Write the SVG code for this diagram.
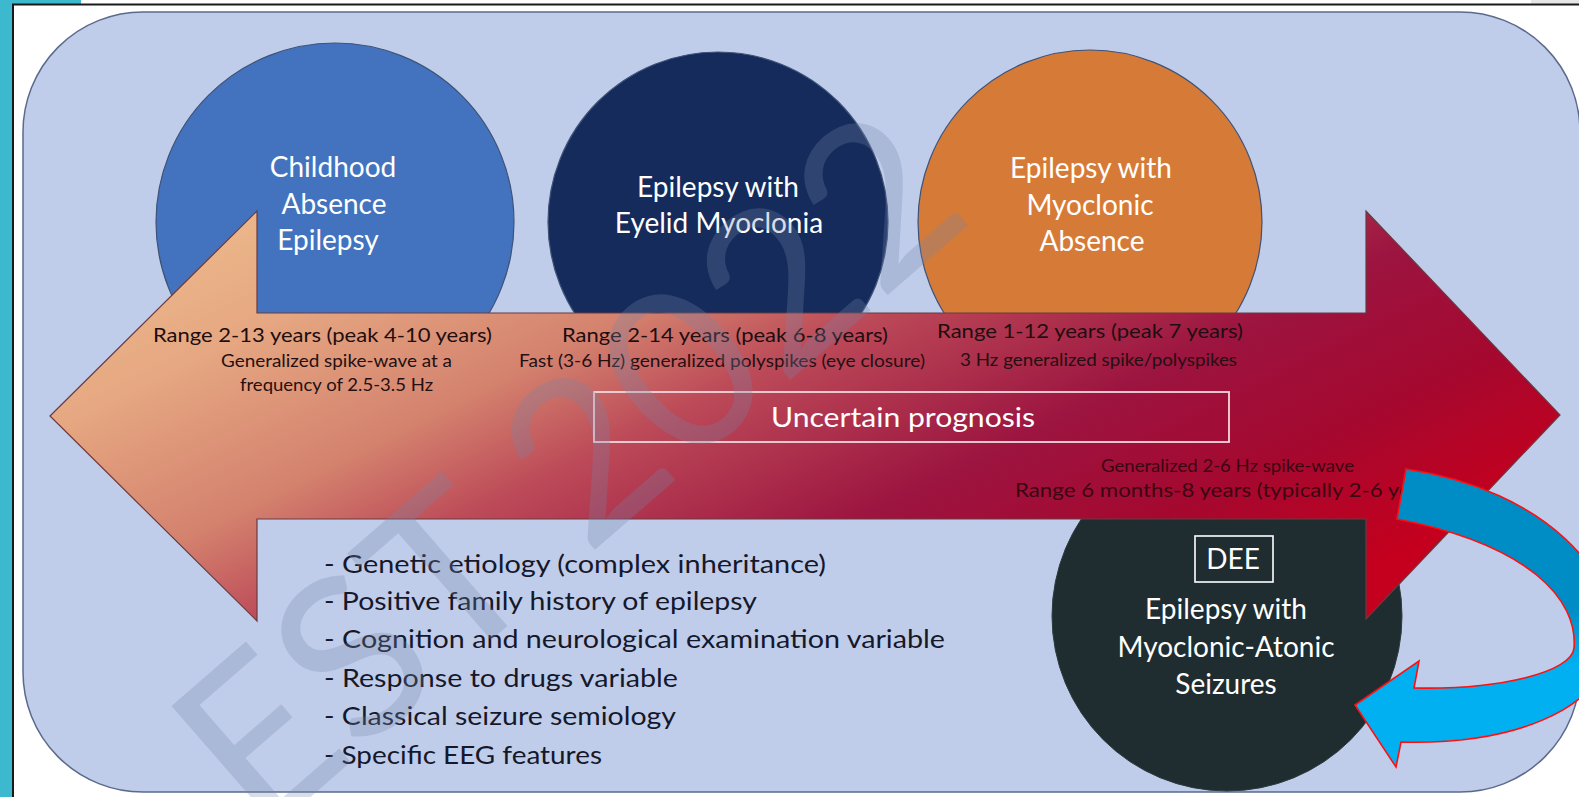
<svg xmlns="http://www.w3.org/2000/svg" width="1579" height="797" viewBox="0 0 1579 797">
  <defs>
    <linearGradient id="bandGrad" gradientUnits="userSpaceOnUse" x1="100" y1="200" x2="500" y2="1000">
      <stop offset="0" stop-color="#F0C090"/>
      <stop offset="0.2" stop-color="#E6A882"/>
      <stop offset="0.38" stop-color="#D4826E"/>
      <stop offset="0.5" stop-color="#BC4A58"/>
      <stop offset="0.7" stop-color="#9C1440"/>
      <stop offset="0.85" stop-color="#A5082F"/>
      <stop offset="1" stop-color="#C4001E"/>
    </linearGradient>
    <linearGradient id="loopGrad" gradientUnits="userSpaceOnUse" x1="0" y1="610" x2="0" y2="665">
      <stop offset="0" stop-color="#008DC5"/>
      <stop offset="1" stop-color="#00B0F0"/>
    </linearGradient>
    <clipPath id="bandTextClip">
      <rect x="900" y="440" width="504" height="80"/>
    </clipPath>
  </defs>
  <style>
    .t { font-family: Lato, "Open Sans", "Liberation Sans", sans-serif; }
    .circ-label { font-size: 28px; fill: #FFFFFF; text-anchor: middle; }
    .range { font-size: 20px; fill: #1E0E10; }
    .note { font-size: 17px; fill: #241012; }
    .note-dark { fill: #3A0612; }
    .bullet { font-size: 25px; fill: #16182A; }
    .node-circle { stroke: #3E5277; stroke-width: 1.2; }
  </style>

  <!-- page frame -->
  <rect x="0" y="0" width="1579" height="797" fill="#FFFFFF"/>
  <rect x="0" y="0" width="12" height="797" fill="#3CB8CF"/>
  <rect x="0" y="0" width="81" height="4" fill="#3CB8CF"/>
  <rect x="1531" y="0" width="48" height="4" fill="#E6E6E6"/>
  <line x1="12" y1="4.5" x2="1579" y2="4.5" stroke="#1A1A1A" stroke-width="2"/>
  <line x1="13" y1="4" x2="13" y2="797" stroke="#1A1A1A" stroke-width="2"/>

  <!-- rounded panel -->
  <rect id="panel" x="23" y="12" width="1557" height="780" rx="120" ry="120" fill="#BFCDEA" stroke="#5B6A8C" stroke-width="1.5"/>

  <!-- syndrome circles -->
  <g id="node-cae">
    <circle class="node-circle" cx="335" cy="222" r="179" fill="#4373BF"/>
  </g>
  <g id="node-eem">
    <circle class="node-circle" cx="718" cy="222" r="170" fill="#142B5C"/>
  </g>
  <g id="node-ema">
    <circle class="node-circle" cx="1090" cy="222" r="172" fill="#D67B37"/>
  </g>
  <g id="node-emas">
    <circle cx="1227" cy="616" r="175" fill="#1F2D30" stroke="#2A3A3E" stroke-width="1"/>
  </g>

  <!-- double-headed age/prognosis arrow -->
  <g id="connectors">
    <polygon id="spectrum-arrow" points="50,416 257,211 257,313 1366,313 1366,211 1560,415 1366,619 1366,519 257,519 257,621" fill="url(#bandGrad)" stroke="#6A3A40" stroke-width="1.2"/>
  </g>

  <!-- circle labels -->
  <g id="label-cae" class="t circ-label">
    <text x="333" y="177">Childhood</text>
    <text x="334" y="214">Absence</text>
    <text x="328" y="250">Epilepsy</text>
  </g>
  <g id="label-eem" class="t circ-label">
    <text x="718" y="197">Epilepsy with</text>
    <text x="719" y="233">Eyelid Myoclonia</text>
  </g>
  <g id="label-ema" class="t circ-label">
    <text x="1091" y="178">Epilepsy with</text>
    <text x="1090" y="215">Myoclonic</text>
    <text x="1092" y="251">Absence</text>
  </g>
  <g id="label-emas" class="t circ-label">
    <rect x="1195" y="536" width="78" height="46" fill="none" stroke="#FFFFFF" stroke-width="1.6"/>
    <text x="1233" y="569">DEE</text>
    <text x="1226" y="619">Epilepsy with</text>
    <text x="1226" y="657">Myoclonic-Atonic</text>
    <text x="1226" y="694">Seizures</text>
  </g>

  <!-- age ranges and EEG notes on the arrow -->
  <g id="notes-cae" class="t">
    <text class="range" x="153" y="342" textLength="339" lengthAdjust="spacingAndGlyphs">Range 2-13 years (peak 4-10 years)</text>
    <text class="note" x="221" y="367" textLength="231" lengthAdjust="spacingAndGlyphs">Generalized spike-wave at a</text>
    <text class="note" x="240" y="391" textLength="193" lengthAdjust="spacingAndGlyphs">frequency of 2.5-3.5 Hz</text>
  </g>
  <g id="notes-eem" class="t">
    <text class="range" x="562" y="342" textLength="326" lengthAdjust="spacingAndGlyphs">Range 2-14 years (peak 6-8 years)</text>
    <text class="note" x="519" y="367" textLength="406" lengthAdjust="spacingAndGlyphs">Fast (3-6 Hz) generalized polyspikes (eye closure)</text>
  </g>
  <g id="notes-ema" class="t">
    <text class="range" x="937" y="338" textLength="306" lengthAdjust="spacingAndGlyphs">Range 1-12 years (peak 7 years)</text>
    <text class="note" x="960" y="366" textLength="277" lengthAdjust="spacingAndGlyphs">3 Hz generalized spike/polyspikes</text>
  </g>
  <g id="prognosis">
    <rect x="594" y="392" width="635" height="50" fill="none" stroke="#F2D8DC" stroke-width="1.8"/>
    <text class="t" x="903" y="427" font-size="26" fill="#FFFFFF" text-anchor="middle" textLength="264" lengthAdjust="spacingAndGlyphs">Uncertain prognosis</text>
  </g>
  <g id="notes-emas" class="t" clip-path="url(#bandTextClip)">
    <text class="note note-dark" x="1101" y="472" textLength="253" lengthAdjust="spacingAndGlyphs">Generalized 2-6 Hz spike-wave</text>
    <text class="range note-dark" x="1015" y="497" textLength="430" lengthAdjust="spacingAndGlyphs">Range 6 months-8 years (typically 2-6 years)</text>
  </g>

  <!-- shared features list -->
  <g id="features" class="t bullet">
    <text x="324" y="573" textLength="502" lengthAdjust="spacingAndGlyphs">- Genetic etiology (complex inheritance)</text>
    <text x="324" y="610" textLength="433" lengthAdjust="spacingAndGlyphs">- Positive family history of epilepsy</text>
    <text x="324" y="648" textLength="621" lengthAdjust="spacingAndGlyphs">- Cognition and neurological examination variable</text>
    <text x="324" y="687" textLength="354" lengthAdjust="spacingAndGlyphs">- Response to drugs variable</text>
    <text x="324" y="725" textLength="352" lengthAdjust="spacingAndGlyphs">- Classical seizure semiology</text>
    <text x="324" y="764" textLength="278" lengthAdjust="spacingAndGlyphs">- Specific EEG features</text>
  </g>

  <!-- curved return arrow pointing back into the DEE circle -->
  <g id="loop-arrow">
    <path d="M 1406 469 C 1545 490 1625 575 1610 650 C 1598 712 1510 745 1401 742 L 1396 767 L 1355 705 L 1419 661 L 1414 688 C 1500 690 1572 672 1574 648 C 1578 600 1530 545 1397 519 Z" fill="url(#loopGrad)" stroke="#FF1010" stroke-width="1.6" stroke-linejoin="miter"/>
  </g>

  <!-- watermark -->
  <text class="t" transform="translate(261 840) rotate(-41)" font-family="'Liberation Sans', sans-serif" font-size="223" fill="#7884A8" fill-opacity="0.28">EST 2022</text>
</svg>
